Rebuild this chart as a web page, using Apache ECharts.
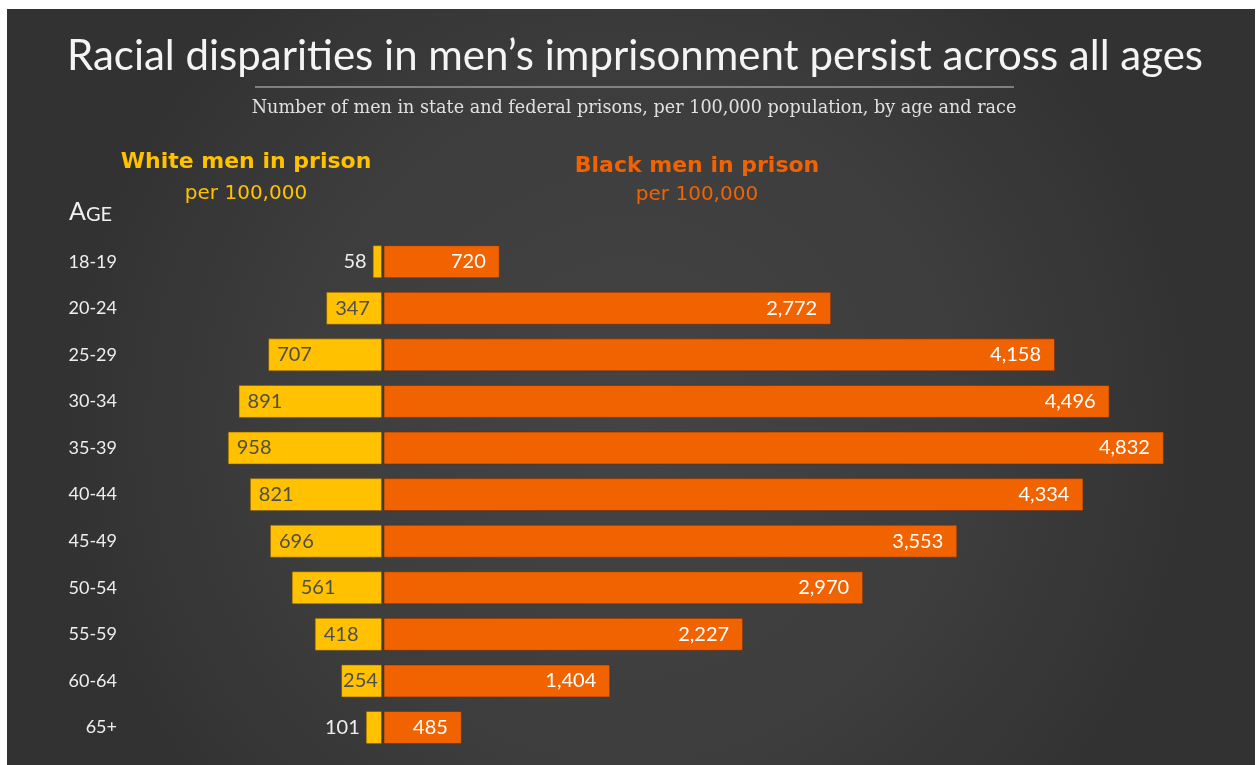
<!DOCTYPE html>
<html>
<head>
<meta charset="utf-8">
<script src="https://cdn.jsdelivr.net/npm/echarts@6/dist/echarts.min.js"></script>
<style>
  html, body { margin: 0; padding: 0; background: #fff; }
  #chart { width: 1257px; height: 765px; }
</style>
</head>
<body>
<div id="chart"></div>
<script>
// Men in state and federal prisons per 100,000 population, by age group
const ages = ['18-19', '20-24', '25-29', '30-34', '35-39', '40-44', '45-49', '50-54', '55-59', '60-64', '65+'];
const whiteMen = [58, 347, 707, 891, 958, 821, 696, 561, 418, 254, 101];
const blackMen = [720, 2772, 4158, 4496, 4832, 4334, 3553, 2970, 2227, 1404, 485];

const YELLOW = '#FFC100';
const ORANGE = '#F06300';
const LABEL_FONT = 'Lato, "Open Sans", sans-serif';
const HEAD_FONT = '"DejaVu Sans", Verdana, sans-serif';

const chart = echarts.init(document.getElementById('chart'), null, { renderer: 'canvas' });

const gridTop = 238.4, gridBottom = 14.2;

// White bars: short bars carry their number outside, the rest inside
const whiteData = whiteMen.map(v => {
  const item = { value: v };
  if (v < 200) {
    item.label = { position: 'left', distance: 6, color: '#eeeeee' };
  } else if (v < 300) {
    item.label = { position: 'insideLeft', distance: 2 };
  }
  return item;
});

const option = {
  backgroundColor: '#ffffff',
  animation: false,
  graphic: [
    {
      type: 'rect', z: -10, silent: true,
      shape: { x: 7, y: 9, width: 1248, height: 756 },
      style: {
        fill: {
          type: 'radial', x: 0.5, y: 0.55, r: 0.75,
          colorStops: [
            { offset: 0, color: '#444444' },
            { offset: 0.6, color: '#3d3d3d' },
            { offset: 1, color: '#323232' }
          ]
        }
      }
    },
    {
      type: 'text', x: 635, y: 56,
      style: {
        text: 'Racial disparities in men\u2019s imprisonment persist across all ages',
        fill: '#f4f4f4', font: '42px Lato, "Open Sans", sans-serif',
        textAlign: 'center', textVerticalAlign: 'middle'
      }
    },
    {
      type: 'line', silent: true,
      shape: { x1: 255, y1: 87, x2: 1014, y2: 87 },
      style: { stroke: '#9a9a9a', lineWidth: 1.5 }
    },
    {
      type: 'text', x: 634, y: 108,
      style: {
        text: 'Number of men in state and federal prisons, per 100,000 population, by age and race',
        fill: '#e0e0e0', font: '17.6px "DejaVu Serif", "Liberation Serif", serif',
        textAlign: 'center', textVerticalAlign: 'middle'
      }
    },
    {
      type: 'text', x: 246, y: 162,
      style: {
        text: 'White men in prison', fill: YELLOW,
        font: 'bold 22px ' + HEAD_FONT,
        textAlign: 'center', textVerticalAlign: 'middle'
      }
    },
    {
      type: 'text', x: 246, y: 194,
      style: {
        text: 'per 100,000', fill: YELLOW,
        font: '20px ' + HEAD_FONT,
        textAlign: 'center', textVerticalAlign: 'middle'
      }
    },
    {
      type: 'text', x: 697, y: 166,
      style: {
        text: 'Black men in prison', fill: ORANGE,
        font: 'bold 22px ' + HEAD_FONT,
        textAlign: 'center', textVerticalAlign: 'middle'
      }
    },
    {
      type: 'text', x: 697, y: 195,
      style: {
        text: 'per 100,000', fill: ORANGE,
        font: '20px ' + HEAD_FONT,
        textAlign: 'center', textVerticalAlign: 'middle'
      }
    },
    {
      type: 'text', x: 69, y: 212,
      style: {
        text: '{a|A}{b|GE}',
        textVerticalAlign: 'middle',
        rich: {
          a: { fill: '#f0f0f0', font: '25px Lato, "Open Sans", sans-serif', verticalAlign: 'bottom' },
          b: { fill: '#f0f0f0', font: '20px Lato, "Open Sans", sans-serif', verticalAlign: 'bottom' }
        }
      }
    }
  ],
  grid: [
    { left: 221, right: 875, top: gridTop, bottom: gridBottom },
    { left: 383.5, width: 807.5, top: gridTop, bottom: gridBottom }
  ],
  xAxis: [
    { type: 'value', gridIndex: 0, min: 0, max: 1000, inverse: true, show: false },
    { type: 'value', gridIndex: 1, min: 0, max: 5000, show: false }
  ],
  yAxis: [
    {
      type: 'category', gridIndex: 0, data: ages, inverse: true, position: 'left',
      axisLine: { show: false }, axisTick: { show: false },
      axisLabel: {
        margin: 104, color: '#eeeeee', fontSize: 18, fontFamily: LABEL_FONT
      }
    },
    {
      type: 'category', gridIndex: 1, data: ages, inverse: true, show: false
    }
  ],
  series: [
    {
      name: 'White men in prison', type: 'bar',
      xAxisIndex: 0, yAxisIndex: 0,
      data: whiteData, barWidth: 33,
      itemStyle: { color: YELLOW, borderColor: 'rgba(120,80,0,0.55)', borderWidth: 1 },
      label: {
        show: true, position: 'insideLeft', distance: 9,
        color: '#4e4e4e', fontSize: 20, fontFamily: LABEL_FONT,
        formatter: p => p.value.toLocaleString('en-US')
      }
    },
    {
      name: 'Black men in prison', type: 'bar',
      xAxisIndex: 1, yAxisIndex: 1,
      data: blackMen, barWidth: 33,
      itemStyle: { color: ORANGE, borderColor: 'rgba(110,40,0,0.55)', borderWidth: 1 },
      label: {
        show: true, position: 'insideRight', distance: 14,
        color: '#ffffff', fontSize: 20, fontFamily: LABEL_FONT,
        formatter: p => p.value.toLocaleString('en-US')
      }
    }
  ]
};

chart.setOption(option);
</script>
</body>
</html>
